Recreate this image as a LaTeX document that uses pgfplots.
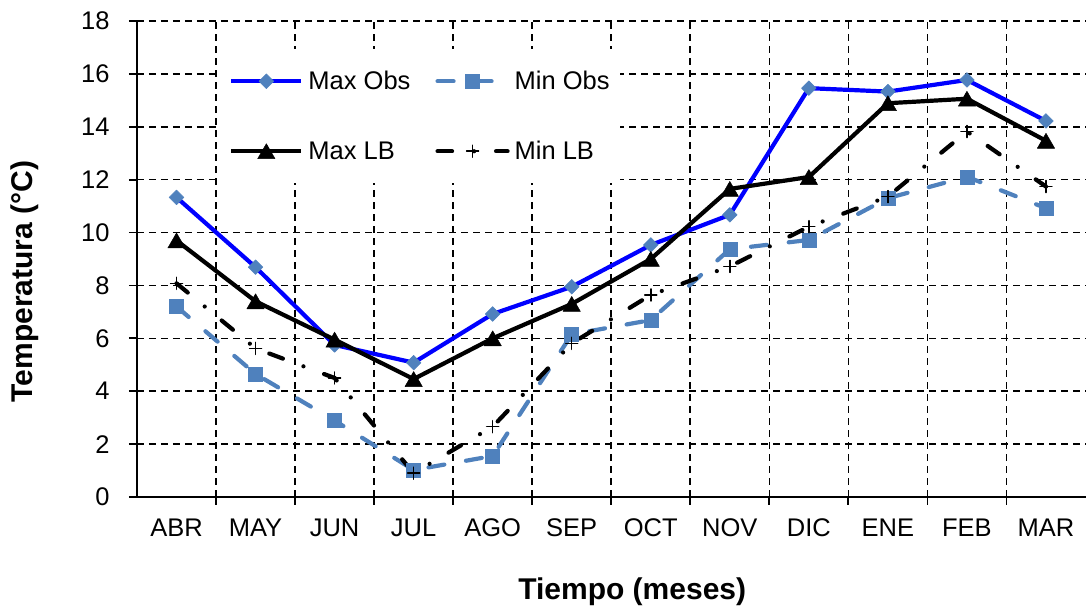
\documentclass[border=0pt]{standalone}
\usepackage{fontspec}
\setmainfont{Liberation Sans}
\usepackage{pgfplots}
\pgfplotsset{compat=1.18}
\definecolor{obsblue}{RGB}{0,0,255}
\definecolor{steel}{RGB}{79,129,189}
\begin{document}
\begin{tikzpicture}
\begin{axis}[
  scale only axis, width=948.5pt, height=476pt,
  xmin=-0.5, xmax=11.5, ymin=0, ymax=18,
  axis x line*=bottom, axis y line*=left,
  axis line style={-, line width=2.2pt, black},
  xtick={0,...,11},
  xticklabels={ABR,MAY,JUN,JUL,AGO,SEP,OCT,NOV,DIC,ENE,FEB,MAR},
  every major x tick/.append style={draw=none},
  minor xtick={0.5,1.5,...,10.5},
  ytick={0,2,...,18},
  tick align=outside,
  major tick length=8pt, minor tick length=8pt,
  every tick/.append style={black, line width=1.8pt},
  ymajorgrids, xminorgrids,
  major grid style={black, line width=1.6pt, dash pattern=on 7pt off 5pt},
  minor grid style={black, line width=1.6pt, dash pattern=on 7pt off 5pt},
  /pgf/number format/assume math mode=true,
  ticklabel style={font=\fontsize{25.5}{30}\selectfont},
  xticklabel style={yshift=-10pt},
  yticklabel style={xshift=-16pt},
  xlabel={Tiempo (meses)},
  ylabel={Temperatura (°C)},
  xlabel style={font=\fontsize{30}{36}\selectfont\bfseries, at={(axis description cs:0.5221,-0.1996)}, anchor=center},
  ylabel style={font=\fontsize{30}{36}\selectfont\bfseries, at={(axis description cs:-0.1181,0.4527)}, anchor=center},
  legend columns=2,
  legend cell align=left,
  legend style={at={(0.0865,0.941)}, anchor=north west, fill=white, draw=none,
    inner xsep=10pt, inner ysep=22pt, row sep=50pt,
    font=\fontsize{25.5}{30}\selectfont,
    nodes={inner sep=0pt},
    /tikz/every odd column/.append style={column sep=5pt},
    /tikz/every even column/.append style={column sep=25pt}},
  legend image code/.code={\draw[mark repeat=2,mark phase=2,#1] plot coordinates {(0pt,0pt) (35pt,0pt) (70pt,0pt)};},
]
\addplot[obsblue, line width=4.2pt, line join=round, mark=square*, mark size=5.2pt,
  mark options={solid, rotate=45, draw=steel, fill=steel, line width=0.5pt}]
  coordinates {(0,11.33) (1,8.69) (2,5.75) (3,5.08) (4,6.92) (5,7.95) (6,9.53) (7,10.67) (8,15.46) (9,15.33) (10,15.77) (11,14.22)};
\addlegendentry{Max Obs}
\addplot[steel, line width=4.2pt, line cap=round, dash pattern=on 16pt off 22pt, mark=square*, mark size=7pt,
  mark options={solid, draw=steel, fill=steel, line width=0.5pt}]
  coordinates {(0,7.2) (1,4.65) (2,2.89) (3,1.02) (4,1.55) (5,6.15) (6,6.69) (7,9.37) (8,9.72) (9,11.3) (10,12.11) (11,10.92)};
\addlegendentry{Min Obs}
\addplot[black, line width=4.2pt, line join=round, mark=triangle*, mark size=10pt,
  mark options={solid, yshift=-2.5pt, line width=0.5pt}]
  coordinates {(0,9.7) (1,7.4) (2,5.95) (3,4.46) (4,6.0) (5,7.3) (6,9.0) (7,11.65) (8,12.1) (9,14.89) (10,15.06) (11,13.47)};
\addlegendentry{Max LB}
\addplot[black, line width=4.2pt, line cap=round, dash pattern=on 14.5pt off 22pt on 0pt off 22pt, mark=+, mark size=6pt,
  mark options={solid, line width=1.5pt}]
  coordinates {(0,8.08) (1,5.62) (2,4.5) (3,0.9) (4,2.66) (5,5.81) (6,7.64) (7,8.72) (8,10.22) (9,11.36) (10,13.82) (11,11.74)};
\addlegendentry{Min LB}
\end{axis}
\pgfresetboundingbox
\path (-137pt,-112pt) rectangle (949pt,497pt);
\end{tikzpicture}
\end{document}
